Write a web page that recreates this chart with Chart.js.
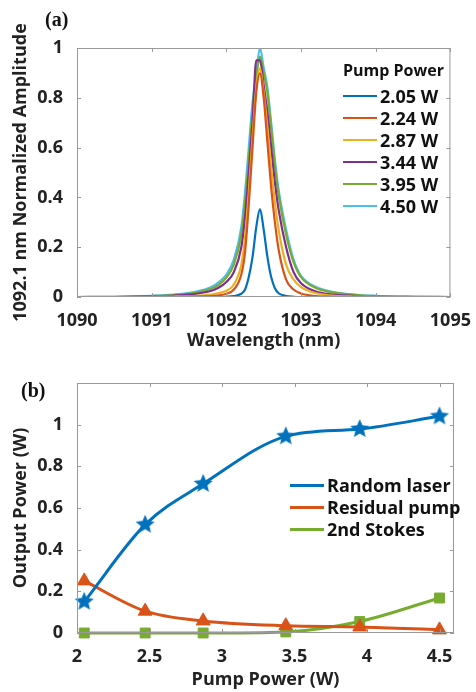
<!DOCTYPE html>
<html>
<head>
<meta charset="utf-8">
<script src="https://cdn.jsdelivr.net/npm/chart.js@4.4.0/dist/chart.umd.min.js"></script>
<style>
  body { margin: 0; background: #fff; width: 476px; height: 692px; position: relative; overflow: hidden; font-family: "Open Sans", sans-serif; }
  canvas { position: absolute; left: 0; }
  #chartA { top: 0; }
  #chartB { top: 356px; }
  .panel { position: absolute; font-family: "Liberation Serif", serif; font-weight: bold; font-size: 20px; line-height: 20px; color: #111; }
  .legend { position: absolute; font-weight: bold; font-size: 18px; color: #111; }
  .legend .ttl { font-size: 16px; height: 27px; line-height: 24px; }
  .legend .row { display: flex; align-items: center; height: 22px; line-height: 22px; }
  .legend .ln { display: inline-block; width: 34px; margin-right: 3px; }
</style>
</head>
<body>
<canvas id="chartA" width="476" height="356"></canvas>
<canvas id="chartB" width="476" height="336"></canvas>
<div class="panel" style="left:45px;top:9px">(a)</div>
<div class="panel" style="left:21px;top:380px">(b)</div>
<div class="legend" id="legA" style="left:343px;top:58px"></div>
<div class="legend" id="legB" style="left:290px;top:474px"></div>
<script>
// (a) spectra, normalized amplitude vs wavelength
const wavelength = [1090, 1090.5, 1091, 1091.3, 1091.6, 1091.8, 1091.9, 1092.0, 1092.1, 1092.2, 1092.25, 1092.3, 1092.35, 1092.4, 1092.45, 1092.5, 1092.55, 1092.6, 1092.65, 1092.7, 1092.8, 1092.9, 1093.0, 1093.2, 1093.4, 1093.7, 1094, 1094.5, 1095];
const amp205 = [0, 0, 0, 0, 0, 0, 0, 0.001, 0.004, 0.013, 0.03, 0.08, 0.16, 0.28, 0.353, 0.27, 0.16, 0.08, 0.035, 0.015, 0.004, 0.001, 0, 0, 0, 0, 0, 0, 0];
const amp224 = [0, 0, 0, 0, 0.002, 0.004, 0.007, 0.013, 0.03, 0.09, 0.18, 0.37, 0.6, 0.82, 0.898, 0.8, 0.62, 0.44, 0.3, 0.19, 0.07, 0.03, 0.014, 0.004, 0.001, 0, 0, 0, 0];
const amp287 = [0, 0, 0.001, 0.002, 0.005, 0.01, 0.016, 0.025, 0.05, 0.13, 0.24, 0.42, 0.64, 0.84, 0.918, 0.82, 0.68, 0.52, 0.38, 0.27, 0.13, 0.07, 0.04, 0.015, 0.006, 0.002, 0.001, 0, 0];
const amp344 = [0, 0, 0.003, 0.006, 0.013, 0.025, 0.038, 0.06, 0.1, 0.2, 0.32, 0.5, 0.7, 0.95, 0.95, 0.85, 0.74, 0.6, 0.46, 0.35, 0.2, 0.1, 0.055, 0.022, 0.011, 0.005, 0.002, 0, 0];
const amp395 = [0, 0.001, 0.004, 0.008, 0.018, 0.034, 0.05, 0.078, 0.13, 0.25, 0.38, 0.55, 0.74, 0.88, 0.965, 0.9, 0.82, 0.68, 0.53, 0.41, 0.25, 0.14, 0.08, 0.036, 0.02, 0.009, 0.004, 0.001, 0];
const amp450 = [0, 0.001, 0.005, 0.01, 0.022, 0.04, 0.06, 0.09, 0.15, 0.28, 0.42, 0.6, 0.78, 0.9, 1.0, 0.92, 0.84, 0.7, 0.55, 0.43, 0.27, 0.15, 0.085, 0.04, 0.022, 0.01, 0.005, 0.002, 0];
const spectraLabels = ['2.05 W', '2.24 W', '2.87 W', '3.44 W', '3.95 W', '4.50 W'];
const spectraColors = ['#0072BD', '#D95319', '#EDB120', '#7E2F8E', '#77AC30', '#4DBEEE'];
const ticksAx = [1090, 1091, 1092, 1093, 1094, 1095];
const ticksAy = [0, 0.2, 0.4, 0.6, 0.8, 1];

// (b) output power vs pump power
const pumpPower = [2.05, 2.47, 2.87, 3.44, 3.95, 4.50];
const randomLaser = [0.15, 0.52, 0.716, 0.944, 0.979, 1.04];
const residualPump = [0.25, 0.105, 0.058, 0.035, 0.029, 0.015];
const secondStokes = [0, 0, 0, 0.005, 0.055, 0.168];
const powerLabels = ['Random laser', 'Residual pump', '2nd Stokes'];
const powerColors = ['#0072BD', '#D95319', '#77AC30'];
const ticksBx = [2, 2.5, 3, 3.5, 4, 4.5];
const ticksBy = [0, 0.2, 0.4, 0.6, 0.8, 1];

const tickFont = { family: 'Open Sans', weight: 'bold', size: 18 };
const titleFont = { family: 'Open Sans', weight: 'bold', size: 18 };
const textColor = '#222';

// MATLAB-like box with inward ticks
const boxTicks = {
  id: 'boxTicks',
  afterDraw(chart) {
    const { ctx, chartArea: a, scales: { x, y } } = chart;
    ctx.save();
    ctx.strokeStyle = '#999';
    ctx.lineWidth = 1;
    ctx.strokeRect(a.left + 0.5, a.top + 0.5, a.right - a.left - 1, a.bottom - a.top - 1);
    ctx.beginPath();
    x.ticks.forEach(t => {
      const p = Math.round(x.getPixelForValue(t.value)) + 0.5;
      ctx.moveTo(p, a.bottom); ctx.lineTo(p, a.bottom - 4);
      ctx.moveTo(p, a.top); ctx.lineTo(p, a.top + 4);
    });
    y.ticks.forEach(t => {
      const p = Math.round(y.getPixelForValue(t.value)) + 0.5;
      ctx.moveTo(a.left, p); ctx.lineTo(a.left + 4, p);
      ctx.moveTo(a.right, p); ctx.lineTo(a.right - 4, p);
    });
    ctx.stroke();
    ctx.restore();
  }
};

function axes(xmin, xmax, xTicks, ymin, ymax, yTicks, xTitle, yTitle, xTitlePad) {
  return {
    x: {
      type: 'linear', min: xmin, max: xmax,
      grid: { display: false }, border: { display: false },
      afterBuildTicks: s => { s.ticks = xTicks.map(v => ({ value: v })); },
      ticks: { color: textColor, font: tickFont, padding: 5, maxRotation: 0, autoSkip: false,
        callback: v => String(v) },
      title: { display: true, text: xTitle, color: textColor, font: titleFont, padding: { top: 0, bottom: xTitlePad } },
      afterFit: s => { s.height = 59; }
    },
    y: {
      type: 'linear', min: ymin, max: ymax,
      grid: { display: false }, border: { display: false },
      afterBuildTicks: s => { s.ticks = yTicks.map(v => ({ value: v })); },
      ticks: { color: textColor, font: tickFont, padding: 6, autoSkip: false,
        callback: v => String(v) },
      title: { display: true, text: yTitle, color: textColor, font: titleFont, padding: { top: 10, bottom: 0 } },
      afterFit: s => { s.width = 77; }
    }
  };
}

const spectra = [amp205, amp224, amp287, amp344, amp395, amp450];
new Chart(document.getElementById('chartA'), {
  type: 'line',
  data: {
    datasets: spectra.map((amp, i) => ({
      label: spectraLabels[i],
      data: wavelength.map((w, j) => ({ x: w, y: amp[j] })),
      borderColor: spectraColors[i],
      borderWidth: 2.2,
      pointRadius: 0,
      cubicInterpolationMode: 'monotone',
      fill: false
    }))
  },
  options: {
    responsive: false,
    animation: false,
    layout: { padding: { top: 48, right: 22, left: 0, bottom: 0 } },
    scales: axes(1090, 1095, ticksAx, 0, 1, ticksAy, 'Wavelength (nm)', '1092.1 nm Normalized Amplitude', 4),
    plugins: { legend: { display: false }, tooltip: { enabled: false } }
  },
  plugins: [boxTicks]
});

function starImage(r, color) {
  const c = document.createElement('canvas');
  c.width = c.height = 2 * r + 2;
  const g = c.getContext('2d');
  g.beginPath();
  for (let i = 0; i < 10; i++) {
    const a = -Math.PI / 2 + i * Math.PI / 5;
    const rr = i % 2 ? r * 0.45 : r;
    g.lineTo(r + 1 + rr * Math.cos(a), r + 1 + rr * Math.sin(a));
  }
  g.closePath();
  g.fillStyle = color;
  g.fill();
  return c;
}

const powerSeries = [randomLaser, residualPump, secondStokes];
const markers = [starImage(10, powerColors[0]), 'triangle', 'rect'];
const markerSize = [10, 8, 7];
new Chart(document.getElementById('chartB'), {
  type: 'line',
  data: {
    datasets: powerSeries.map((vals, i) => ({
      label: powerLabels[i],
      data: pumpPower.map((p, j) => ({ x: p, y: vals[j] })),
      borderColor: powerColors[i],
      backgroundColor: powerColors[i],
      borderWidth: 3,
      pointStyle: markers[i],
      pointRadius: markerSize[i],
      pointBorderWidth: 1,
      cubicInterpolationMode: 'monotone',
      clip: false,
      fill: false
    }))
  },
  options: {
    responsive: false,
    animation: false,
    layout: { padding: { top: 27, right: 22, left: 0, bottom: 0 } },
    scales: axes(2, 4.6, ticksBx, 0, 1.2, ticksBy, 'Pump Power (W)', 'Output Power (W)', 1),
    plugins: { legend: { display: false }, tooltip: { enabled: false } }
  },
  plugins: [boxTicks]
});

// legends as text
function buildLegend(el, title, labels, colors, lw) {
  let html = title ? '<div class="ttl">' + title + '</div>' : '';
  labels.forEach((l, i) => {
    html += '<div class="row"><span class="ln" style="height:' + lw + 'px;background:' + colors[i] + '"></span>' + l + '</div>';
  });
  el.innerHTML = html;
}
buildLegend(document.getElementById('legA'), 'Pump Power', spectraLabels, spectraColors, 2);
buildLegend(document.getElementById('legB'), '', powerLabels, powerColors, 3);
</script>
</body>
</html>
